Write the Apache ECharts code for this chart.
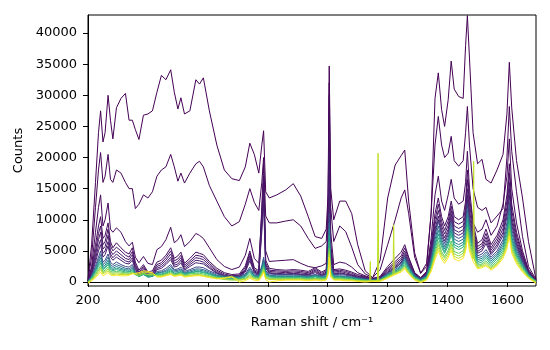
<!DOCTYPE html>
<html><head><meta charset="utf-8">
<script src="https://cdn.jsdelivr.net/npm/echarts@6/dist/echarts.min.js"></script>
<style>html,body{margin:0;padding:0;background:#fff}#c{width:550px;height:350px}</style>
</head><body><div id="c"></div>
<script>
// Raman shift grid (cm^-1)
const ramanShift = [
200,212,225,235,242,250,257,267,275,283,
295,310,325,337,348,358,370,385,400,415,
430,445,460,476,488,500,510,522,540,560,
572,585,605,630,655,680,705,725,740,755,
770,780,786,793,805,830,860,885,910,935,
958,980,995,1001,1005,1010,1020,1040,1060,1080,
1100,1125,1150,1175,1200,1225,1245,1257,1270,1290,
1310,1330,1345,1358,1369,1380,1390,1402,1412,1422,
1437,1452,1460,1466,1473,1485,1500,1515,1528,1545,
1565,1585,1598,1606,1614,1630,1650,1670,1695];

// grid of the spectrum with cosmic-ray spikes
const ramanShiftSpiky = [
200,212,225,235,242,250,257,267,275,283,
295,310,325,337,348,358,370,385,400,415,
430,445,460,476,488,500,510,522,540,560,
572,585,605,630,655,680,705,725,740,755,
770,780,786,793,805,830,860,885,910,935,
958,980,995,1001,1005,1010,1020,1040,1060,1080,
1100,1125,1140,1142,1144,1150,1166,1168,1170,1175,
1200,1218,1220,1222,1225,1245,1257,1270,1290,1310,
1330,1345,1358,1369,1380,1390,1402,1412,1422,1437,
1452,1460,1466,1473,1485,1487,1489,1500,1515,1528,
1545,1565,1585,1598,1606,1614,1630,1650,1670,1695];

const spectrumA = [
500,6000,16000,24000,27500,22500,24000,30000,26000,23000,
28000,29500,30300,26000,26000,24500,22900,26800,27000,27500,
30500,33200,32500,34100,30500,27800,29600,27000,27500,32500,
31800,32800,27500,22000,18000,16600,16300,18500,22300,20500,
17500,22000,24300,14500,13500,14000,14800,15800,13800,10500,
7300,7000,8500,14000,34700,15000,10000,13000,13000,11000,
6000,1800,700,3500,13500,18800,20300,21200,13000,4700,
1400,3000,11000,29500,33600,27700,25000,29300,35500,31000,
29800,29500,38000,42800,36000,24000,19000,19700,16500,15900,
18000,20500,27000,35300,28000,19500,13500,6500,400];

const spectrumB = [
300,4000,12000,18000,20800,16000,17000,20500,16500,16000,
18000,17500,16000,15000,15000,11800,12500,14000,13500,14500,
17000,18000,18500,20500,18500,16200,17500,15900,17500,19000,
19400,18500,15500,13000,10500,9000,9700,12500,15000,12800,
11500,16000,20000,10600,9500,9500,9800,10000,9000,7000,
5400,5800,6500,12000,32000,12000,6500,9000,8100,5600,
2800,1300,700,2000,6000,10000,13500,14800,11000,4000,
1400,2500,11000,22000,26600,22000,20000,20700,23400,19500,
18600,19500,24000,28200,22000,15000,12000,11500,12000,9500,
10600,11800,20000,28200,21000,14500,7300,2500,400];

const spectrumC = [
200,2500,8000,12000,14000,9000,10000,12700,8500,8000,
8700,8000,6500,5800,6400,4000,3100,4100,3000,2800,
5200,5700,6800,8800,6300,6800,7600,5700,6500,7800,
7500,7000,5500,3600,2500,2000,2400,4300,7000,3800,
3000,11000,16000,5000,3300,3400,3500,3600,3000,2500,
2300,2600,3000,10000,30000,8000,2800,3200,3000,2400,
1500,1000,600,900,2500,3800,4800,6000,4000,1500,
700,1700,7000,14000,17000,13000,11500,14000,16500,13500,
12500,13000,16000,21000,15000,9500,8000,8500,10000,7500,
9000,12500,17000,23000,15000,9500,5000,2000,300];

const spectrumD1 = [
200,2000,6000,9000,10500,7000,7500,9500,6500,5500,
6300,5500,4800,4500,5500,3200,1900,2800,1600,1800,
3200,3500,4300,5500,3800,4200,4800,3000,3800,4800,
4600,4400,3300,2200,1500,1200,1300,2600,5000,2300,
1800,12000,19000,3500,2200,2000,1900,2000,1900,1700,
2300,1600,2000,8000,27000,6000,2000,2100,1900,1600,
1200,900,500,800,2200,3300,4200,5500,3800,1500,
600,1600,6000,11000,13500,10500,9000,10500,13000,10500,
10000,10500,13000,18000,13500,9500,6200,6800,8500,6000,
7500,10000,14000,19000,12500,8000,4500,1800,200];

const spectrumD2 = [
200,1800,5000,7800,9000,6000,6500,8500,5800,5000,
5600,5000,4300,4000,4900,2800,1600,2500,1400,1500,
2800,3100,3900,5000,3400,3700,4300,2700,3400,4300,
4200,4000,3000,1900,1300,1000,1100,2300,4600,2000,
1600,11000,17000,3000,1900,1800,1700,1800,1700,1500,
2100,1400,1800,7000,24000,5000,1800,1900,1700,1400,
1000,800,500,700,2000,3000,3800,5000,3400,1300,
500,1500,5500,10000,12500,9700,8300,9800,12200,9700,
9300,9700,12000,16500,12500,8800,5700,6200,7800,5500,
7000,9300,13000,17500,11500,7400,4200,1700,200];

const spectrumD3 = [
150,1600,4300,6800,8000,5300,5700,7500,5100,4400,
5000,4400,3800,3600,4400,2500,1400,2300,1200,1300,
2500,2800,3500,4500,3000,3300,3900,2400,3100,3900,
3800,3600,2700,1700,1100,900,1000,2000,4200,1800,
1400,10000,15500,2700,1700,1600,1500,1600,1500,1300,
1900,1200,1600,6000,21000,4500,1600,1700,1500,1200,
900,700,400,700,1800,2700,3500,4600,3100,1200,
500,1400,5000,9200,11500,9000,7700,9100,11500,9000,
8600,9000,11000,15000,11500,8200,5300,5800,7200,5100,
6500,8600,12000,16000,10500,6800,3900,1600,200];

const spectrumD4 = [
150,1400,3700,5800,6800,4600,5000,6500,4500,3900,
4500,3900,3400,3200,3900,2200,1200,2000,1000,1100,
2200,2500,3100,4000,2700,2900,3500,2100,2800,3500,
3400,3200,2400,1500,1000,800,900,1800,3800,1600,
1300,9000,14000,2400,1500,1400,1300,1400,1300,1200,
1700,1100,1400,5000,18000,4000,1400,1500,1300,1100,
800,600,400,600,1600,2500,3200,4200,2800,1100,
400,1300,4600,8500,10600,8400,7100,8500,10900,8400,
8000,8400,10200,14000,10700,7600,4900,5400,6700,4700,
6000,8000,11200,15000,9800,6300,3600,1500,150];

const spectrumD5 = [
100,1200,3200,5000,6000,4000,4400,5800,4000,3500,
4000,3500,3000,2900,3500,2000,1100,1800,900,1000,
2000,2200,2800,3600,2400,2600,3100,1900,2500,3100,
3000,2900,2200,1400,900,700,800,1600,3400,1500,
1200,8000,12500,2200,1400,1300,1200,1300,1200,1100,
1500,1000,1300,4500,16000,3500,1300,1400,1200,1000,
700,600,400,600,1500,2300,3000,3900,2600,1000,
400,1200,4300,8000,10000,7900,6600,8000,10300,7900,
7500,7900,9500,13200,10000,7100,4600,5000,6200,4400,
5600,7500,10500,14000,9200,5900,3400,1400,150];

const spectrumT1 = [
100,1000,2600,4000,5000,3200,3500,4500,3200,2800,
3200,2800,2500,2400,2800,1700,1100,1600,1000,1100,
1700,1800,2200,2800,2000,2100,2400,1700,2000,2400,
2400,2300,1800,1300,1000,900,900,1300,2400,1300,
1100,2600,4000,1800,1300,1200,1200,1200,1100,1000,
1200,1000,1200,3500,11000,2800,1200,1200,1100,900,
700,500,400,600,1400,2200,3000,4300,2800,1100,
500,1100,3800,7500,9800,7400,6200,7600,9800,7400,
7000,7400,9000,12500,9500,6500,4200,4500,5200,4000,
5000,6800,9500,12800,8500,5500,3200,1400,200];

const spectrumT2 = [
100,900,2300,3500,4400,2800,3100,4000,2800,2500,
2800,2500,2200,2100,2500,1500,1000,1400,900,1000,
1500,1600,1900,2500,1800,1900,2100,1500,1800,2100,
2100,2000,1600,1100,900,800,800,1100,2100,1100,
1000,2300,3600,1600,1100,1000,1000,1000,1000,900,
1100,900,1000,3000,9500,2400,1000,1000,900,800,
600,400,300,500,1300,2000,2700,3900,2500,1000,
400,1000,3400,6800,9000,6900,5700,7100,9200,6900,
6500,6900,8300,11600,8900,6100,3900,4100,4800,3700,
4600,6300,8800,12000,7900,5100,3000,1300,200];

const spectrumT3 = [
100,800,2000,3100,3900,2500,2700,3500,2500,2200,
2500,2200,2000,1900,2200,1400,900,1300,800,900,
1400,1500,1700,2200,1600,1700,1900,1400,1600,1900,
1900,1800,1400,1000,800,700,700,1000,1900,1000,
900,2100,3200,1400,1000,900,900,900,900,800,
1000,800,900,2600,8500,2100,900,900,800,700,
500,400,300,400,1200,1800,2500,3600,2300,900,
300,900,3100,6200,8300,6400,5300,6600,8600,6400,
6000,6400,7700,10800,8300,5700,3600,3800,4400,3400,
4300,5900,8200,11200,7300,4700,2800,1200,150];

const spectrumT4 = [
50,700,1800,2800,3400,2200,2400,3100,2200,2000,
2200,2000,1800,1700,2000,1300,900,1200,800,900,
1300,1300,1500,2000,1400,1500,1700,1300,1500,1700,
1700,1600,1300,900,700,600,600,900,1700,900,
800,1900,2900,1300,900,800,800,800,800,700,
900,700,800,2300,7500,1900,800,800,700,600,
500,300,200,400,1100,1700,2300,3300,2100,800,
300,800,2900,5800,7700,6000,4900,6200,8100,6000,
5600,6000,7100,10000,7800,5300,3300,3500,4100,3100,
4000,5500,7600,10400,6800,4400,2600,1100,100];

const spectrumT5 = [
50,600,1600,2500,3000,2000,2200,2800,2000,1800,
2000,1800,1600,1600,1800,1200,900,1200,900,1000,
1200,1200,1400,1800,1300,1400,1600,1200,1400,1600,
1600,1500,1200,800,600,500,500,800,1500,800,
700,1700,2600,1100,800,700,700,700,700,600,
800,600,700,2000,6500,1700,700,700,600,500,
400,300,200,300,1000,1600,2100,3000,1900,700,
200,700,2600,5300,7100,5600,4600,5800,7600,5600,
5200,5600,6600,9300,7200,4900,3000,3200,3800,2800,
3700,5100,7000,9700,6300,4100,2400,1000,100];

const spectrumY1 = [
0,500,1300,2100,2600,1700,1900,2400,1700,1600,
1700,1600,1500,1400,1600,1200,1000,1300,1100,1100,
1100,1100,1300,1600,1200,1300,1400,1100,1300,1400,
1400,1300,1000,700,500,400,400,600,1200,700,
600,1500,2300,900,600,600,600,600,600,500,
600,500,600,1700,5500,1400,600,600,500,400,
300,200,200,300,900,1500,2000,2700,1700,600,
200,600,2300,4800,6500,4900,4100,5100,6600,4900,
4600,5000,6100,8700,6500,4500,2700,2900,3400,2500,
3300,4700,6500,9000,5800,3800,2200,900,100];

const spectrumY2 = [
0,400,1100,1800,2300,1500,1700,2100,1500,1400,
1500,1400,1300,1300,1500,1200,1100,1400,1200,1200,
1000,1000,1200,1400,1100,1200,1300,1000,1100,1200,
1200,1100,900,600,400,300,300,500,1000,600,
500,1300,2000,800,500,500,500,500,500,400,
500,400,500,1500,5000,1200,500,500,400,300,
200,200,100,200,800,1400,1900,2500,1600,500,
100,500,2100,4400,6000,4500,3800,4700,6100,4500,
4200,4600,5700,8200,6000,4100,2500,2700,3100,2300,
3000,4400,6100,8400,5400,3500,2000,800,0];

const spectrumY3 = [
-100,300,900,1500,2000,1300,1500,1800,1300,1200,
1300,1200,1200,1200,1400,1300,1300,1600,1500,1400,
900,900,1100,1300,1000,1100,1200,900,1000,1100,
1100,1000,800,600,700,900,300,400,800,500,
400,1100,1800,600,400,400,400,400,400,300,
400,300,400,1300,4500,1000,400,400,300,300,
200,100,200,3300,200,100,200,20700,200,200,
700,1200,9200,1200,1300,1700,2300,1400,400,0,
400,1900,4000,5500,4100,3400,4300,5600,4100,3800,
4200,5300,7700,5500,3700,19400,3600,2300,2500,2800,
2100,2800,4100,5700,7900,5000,3200,1800,700,-100];

const spectrumY4 = [
-200,200,700,1200,1600,1000,1200,1500,1100,1000,
1100,1000,1000,1100,1300,1400,1500,1800,1700,1500,
800,800,1000,1200,900,1000,1100,800,900,1000,
1000,900,700,500,600,800,0,200,600,300,
200,900,1600,400,0,200,300,300,300,200,
300,200,300,1100,4000,800,300,300,200,200,
100,0,100,100,600,1200,1600,2100,1300,300,
-100,300,1700,3600,5000,3700,3000,3900,5100,3700,
3400,3800,4900,7200,5000,3300,2100,2300,2600,1900,
2600,3800,5300,7400,4600,2900,1600,600,-200];

const xTicks = [200,400,600,800,1000,1200,1400,1600];
const yTicks = [0,5000,10000,15000,20000,25000,30000,35000,40000];

const spectra = [spectrumA,spectrumB,spectrumC,spectrumD1,spectrumD2,spectrumD3,spectrumD4,spectrumD5,
  spectrumT1,spectrumT2,spectrumT3,spectrumT4,spectrumT5,spectrumY1,spectrumY2,spectrumY3,spectrumY4];
const spectrumShifts = spectra.map(s => s === spectrumY3 ? ramanShiftSpiky : ramanShift);

const lineColors = ['#440154','#450457','#46085c','#470d60','#471365','#481769','#481b6d','#482071',
  '#3e4989','#30678d','#25838e','#1f9e89','#2fb47c','#5ec962','#95d840','#c0df25','#fde725'];

const chart = echarts.init(document.getElementById('c'), null, {renderer: 'canvas'});
const font = 'DejaVu Sans';
const plain = v => String(v);
chart.setOption({
  animation: false,
  backgroundColor: '#fff',
  grid: {left: 88, right: 14, top: 15, bottom: 64, show: true, borderColor: '#000', borderWidth: 1, backgroundColor: 'transparent'},
  xAxis: {
    type: 'value', min: 200, max: 1695,
    axisLine: {show: true, lineStyle: {color: '#000', width: 1}},
    axisTick: {show: true, length: 5, customValues: xTicks, lineStyle: {color: '#000', width: 1}},
    axisLabel: {customValues: xTicks, formatter: plain, color: '#000', fontSize: 13, fontFamily: font, margin: 8},
    splitLine: {show: false},
    name: 'Raman shift / cm\u207B\u00B9', nameLocation: 'middle', nameGap: 30,
    nameTextStyle: {color: '#000', fontSize: 13, fontFamily: font}
  },
  yAxis: {
    type: 'value', min: -640, max: 42900,
    axisLine: {show: true, lineStyle: {color: '#000', width: 1}},
    axisTick: {show: true, length: 5, customValues: yTicks, lineStyle: {color: '#000', width: 1}},
    axisLabel: {customValues: yTicks, formatter: plain, color: '#000', fontSize: 13, fontFamily: font, margin: 11},
    splitLine: {show: false},
    name: 'Counts', nameLocation: 'middle', nameGap: 60,
    nameTextStyle: {color: '#000', fontSize: 13, fontFamily: font}
  },
  series: spectra.map((vals, i) => ({
    type: 'line',
    silent: true,
    showSymbol: false,
    symbol: 'none',
    clip: true,
    data: vals.map((v, k) => [spectrumShifts[i][k], v]),
    lineStyle: {color: lineColors[i], width: 1},
    itemStyle: {color: lineColors[i]}
  }))
});
</script>
</body></html>
